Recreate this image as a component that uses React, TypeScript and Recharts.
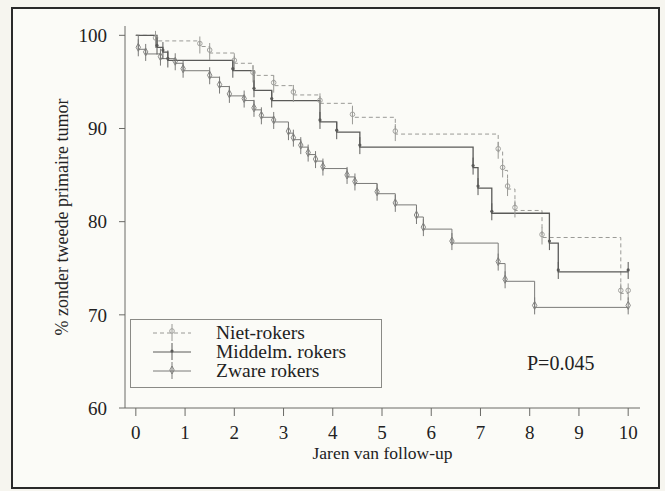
import { LineChart, Line, XAxis, YAxis } from "recharts";

// Kaplan-Meier step points (jaren, % zonder tweede primaire tumor)
const nietTijd = [0, 0.4, 1.3, 1.5, 2.0, 2.38, 2.8, 3.2, 3.74, 4.4, 5.27, 7.36, 7.45, 7.55, 7.7, 8.25, 9.85, 10];
const nietPct = [100, 99.4, 98.8, 98.1, 97.0, 95.7, 94.6, 93.6, 92.7, 91.2, 89.4, 87.5, 85.5, 83.5, 81.2, 78.3, 72.3, 72.3];

const middelTijd = [0, 0.43, 0.55, 0.65, 1.97, 2.4, 2.76, 3.74, 4.08, 4.55, 6.85, 6.95, 7.23, 8.4, 8.58, 10];
const middelPct = [100, 98.7, 98.2, 97.3, 96.2, 94.1, 93.0, 90.7, 89.6, 88.0, 85.8, 83.6, 80.9, 77.7, 74.6, 74.6];

const zwaarTijd = [0, 0.05, 0.2, 0.5, 0.8, 0.96, 1.5, 1.7, 1.9, 2.2, 2.4, 2.55, 2.8, 3.1, 3.2, 3.35, 3.5, 3.65, 3.8, 4.29, 4.45, 4.9, 5.27, 5.7, 5.84, 6.42, 7.36, 7.5, 8.1, 10];
const zwaarPct = [100, 98.5, 98.0, 97.5, 97.0, 96.2, 95.5, 94.5, 93.5, 93.0, 92.0, 91.2, 90.7, 89.5, 88.8, 88.0, 87.2, 86.5, 85.7, 84.8, 84.1, 83.0, 81.8, 80.5, 79.2, 77.7, 75.5, 73.6, 70.8, 70.8];

const xTicks = [0, 1, 2, 3, 4, 5, 6, 7, 8, 9, 10];
const yTicks = [60, 70, 80, 90, 100];

const groepen = ["Niet-rokers", "Middelm. rokers", "Zware rokers"];

const toRows = (t: number[], v: number[]) => t.map((x, i) => ({ t: x, v: v[i] }));

const FONT = "'Liberation Serif', 'Times New Roman', serif";

const marker = (kind: string, color: string) => (props: any) => {
  const { cx, cy, index } = props;
  if (cx == null || cy == null || index === 0) return <g key={index} />;
  return (
    <g key={index}>
      <line x1={cx} y1={cy - 10} x2={cx} y2={cy + 7} stroke={color} strokeWidth={1} />
      {kind === "circle" && <circle cx={cx} cy={cy - 3} r={2.3} fill="none" stroke={color} strokeWidth={0.9} />}
      {kind === "dot" && <circle cx={cx} cy={cy - 2} r={1.6} fill={color} />}
      {kind === "diamond" && (
        <path d={`M${cx},${cy - 6} L${cx + 2.2},${cy - 2} L${cx},${cy + 2} L${cx - 2.2},${cy - 2} Z`} fill="none" stroke={color} strokeWidth={0.9} />
      )}
    </g>
  );
};

const LegendBox = () => {
  const samples = [
    { dash: "4 3", color: "#9a9a96", kind: "circle" },
    { dash: undefined, color: "#5a5a58", kind: "dot" },
    { dash: undefined, color: "#7a7a78", kind: "diamond" },
  ];
  return (
    <div style={{ position: "absolute", left: 130, top: 319, border: "1px solid #8a8a86", width: 252, height: 69, fontFamily: FONT, fontSize: 19.5, lineHeight: "19px", color: "#222", paddingTop: 3, boxSizing: "border-box" }}>
      {groepen.map((g, i) => (
        <div key={g} style={{ display: "flex", alignItems: "center", height: 19 }}>
          <svg width={85} height={19} style={{ display: "block" }}>
            <line x1={22} y1={10} x2={60} y2={10} stroke={samples[i].color} strokeDasharray={samples[i].dash} />
            {marker(samples[i].kind, samples[i].color)({ cx: 41, cy: 11, index: 1 })}
          </svg>
          <span>{g}</span>
        </div>
      ))}
    </div>
  );
};

export default function App() {
  return (
    <div style={{ position: "absolute", left: 0, top: 0, width: 665, height: 491, background: "#f6f5ef" }}>
      <div style={{ position: "absolute", left: 11, top: 7, width: 645, height: 478, border: "2px solid #2a2a2a", background: "#fbfbf7" }} />
      <div style={{ position: "absolute", left: 0, top: 0 }}>
        <LineChart width={665} height={491} margin={{ top: 26, right: 25, bottom: 0, left: 65 }}>
          <XAxis
            type="number"
            dataKey="t"
            domain={[-0.22, 10.24]}
            ticks={xTicks}
            allowDuplicatedCategory={false}
            height={83}
            tickSize={8}
            tickMargin={10}
            stroke="#6a6a66"
            tick={{ fill: "#222", fontFamily: FONT, fontSize: 19 }}
            label={{ value: "Jaren van follow-up", position: "insideBottom", offset: 32, fill: "#222", fontFamily: FONT, fontSize: 17.5 }}
          />
          <YAxis
            type="number"
            domain={[60, 101]}
            ticks={yTicks}
            width={60}
            tickSize={6}
            tickMargin={12}
            stroke="#6a6a66"
            tick={{ fill: "#222", fontFamily: FONT, fontSize: 19 }}
            label={{ value: "% zonder tweede primaire tumor", angle: -90, position: "center", dx: -33, fill: "#222", fontFamily: FONT, fontSize: 18 }}
          />
          <Line
            name={groepen[0]}
            data={toRows(nietTijd, nietPct)}
            dataKey="v"
            type="stepAfter"
            stroke="#9a9a96"
            strokeWidth={1}
            strokeDasharray="4 3"
            dot={marker("circle", "#9a9a96")}
            activeDot={false}
            isAnimationActive={false}
          />
          <Line
            name={groepen[1]}
            data={toRows(middelTijd, middelPct)}
            dataKey="v"
            type="stepAfter"
            stroke="#5a5a58"
            strokeWidth={1.3}
            dot={marker("dot", "#5a5a58")}
            activeDot={false}
            isAnimationActive={false}
          />
          <Line
            name={groepen[2]}
            data={toRows(zwaarTijd, zwaarPct)}
            dataKey="v"
            type="stepAfter"
            stroke="#7a7a78"
            strokeWidth={1}
            dot={marker("diamond", "#7a7a78")}
            activeDot={false}
            isAnimationActive={false}
          />
        </LineChart>
      </div>
      <LegendBox />
      <div style={{ position: "absolute", left: 527, top: 352, fontFamily: FONT, fontSize: 20, color: "#222" }}>P=0.045</div>
    </div>
  );
}
